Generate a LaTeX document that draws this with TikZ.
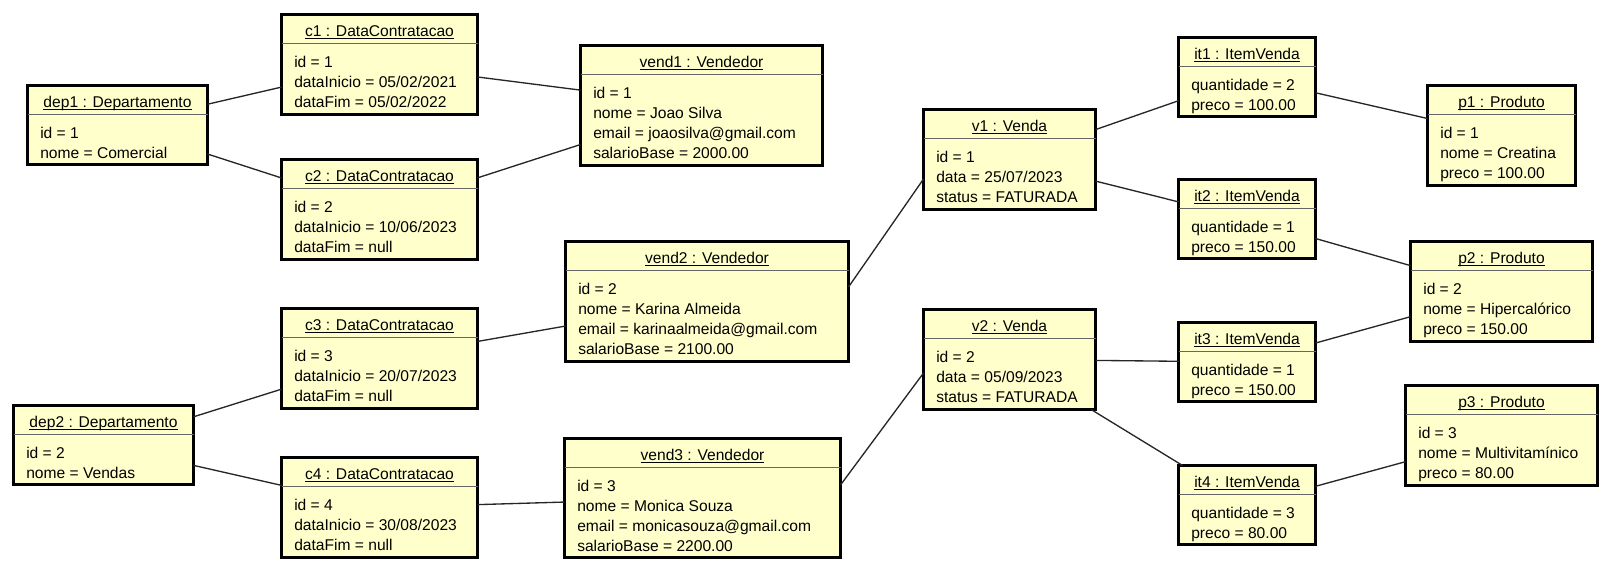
\documentclass[tikz,border=0pt]{standalone}
\usepackage{fontspec}
\setmainfont{Liberation Sans}
\usetikzlibrary{calc}
\definecolor{objfill}{RGB}{255,255,204}

\begin{document}
\begin{tikzpicture}[x=0.75pt, y=-0.75pt,
    obj/.style={draw, line width=2.2pt, fill=objfill, anchor=north west, inner sep=0pt, outer sep=0pt},
    objtitle/.style={anchor=base, inner sep=0pt, font=\fontsize{11.7}{15}\selectfont},
    objattr/.style={anchor=north west, inner sep=0pt, align=left, font=\fontsize{11.7}{15}\selectfont},
    divider/.style={black!60, line width=0.75pt},
    link/.style={black!85, line width=1pt}]
    \useasboundingbox (0,0) rectangle (1612,572);

    % Object boxes (left, top, width, height in px)
    \foreach \n/\x/\y/\w/\h in {dep1/26/84/183/82, dep2/12/404/183/82,
      c1/280/13/199/103, c2/280/158/199/103, c3/280/307/199/103, c4/280/456/199/103,
      vend1/579/44/245/123, vend2/564/240/286/123, vend3/563/437/279/122,
      v1/922/108/175/103, v2/922/308/175/103,
      it1/1177/36/140/82, it2/1177/178/140/82, it3/1177/321/140/82, it4/1177/464/140/82,
      p1/1426/84/151/103, p2/1409/240/185/103, p3/1404/384/195/103}
    {
      \node[obj, minimum width=(\w-3)*0.75pt, minimum height=(\h-3)*0.75pt]
        (\n) at (\x+1.5,\y+1.5) {};
      \draw[divider] ($(\n.north west)+(0,28.5)$) -- ($(\n.north east)+(0,28.5)$);
    }

    % Object names
    \foreach \n/\t in {dep1/{dep1 : Departamento}, dep2/{dep2 : Departamento},
      c1/{c1 : DataContratacao}, c2/{c2 : DataContratacao},
      c3/{c3 : DataContratacao}, c4/{c4 : DataContratacao},
      vend1/{vend1 : Vendedor}, vend2/{vend2 : Vendedor}, vend3/{vend3 : Vendedor},
      v1/{v1 : Venda}, v2/{v2 : Venda},
      it1/{it1 : ItemVenda}, it2/{it2 : ItemVenda}, it3/{it3 : ItemVenda}, it4/{it4 : ItemVenda},
      p1/{p1 : Produto}, p2/{p2 : Produto}, p3/{p3 : Produto}}
    \node[objtitle] (\n-t) at ($(\n.north)+(0,22)$) {\underline{\smash{\t}}};

    % Attribute values
    \foreach \n/\a in {dep1/{id = 1\\nome = Comercial}, dep2/{id = 2\\nome = Vendas},
      c1/{id = 1\\dataInicio = 05/02/2021\\dataFim = 05/02/2022},
      c2/{id = 2\\dataInicio = 10/06/2023\\dataFim = null},
      c3/{id = 3\\dataInicio = 20/07/2023\\dataFim = null},
      c4/{id = 4\\dataInicio = 30/08/2023\\dataFim = null},
      vend1/{id = 1\\nome = Joao Silva\\email = joaosilva@gmail.com\\salarioBase = 2000.00},
      vend2/{id = 2\\nome = Karina Almeida\\email = karinaalmeida@gmail.com\\salarioBase = 2100.00},
      vend3/{id = 3\\nome = Monica Souza\\email = monicasouza@gmail.com\\salarioBase = 2200.00},
      v1/{id = 1\\data = 25/07/2023\\status = FATURADA},
      v2/{id = 2\\data = 05/09/2023\\status = FATURADA},
      it1/{quantidade = 2\\preco = 100.00}, it2/{quantidade = 1\\preco = 150.00},
      it3/{quantidade = 1\\preco = 150.00}, it4/{quantidade = 3\\preco = 80.00},
      p1/{id = 1\\nome = Creatina\\preco = 100.00},
      p2/{id = 2\\nome = Hipercalórico\\preco = 150.00},
      p3/{id = 3\\nome = Multivitamínico\\preco = 80.00}}
    \node[objattr] (\n-a) at ($(\n.north west)+(12.5,41.3)$) {\a};

    % Links
    \draw[link] (dep1) -- (c1);
    \draw[link] (dep1) -- (c2);
    \draw[link] (c1) -- (vend1);
    \draw[link] (c2) -- (vend1);
    \draw[link] (dep2) -- (c3);
    \draw[link] (dep2) -- (c4);
    \draw[link] (c3) -- (vend2);
    \draw[link] (c4) -- (vend3);
    \draw[link] ($(vend2.east)+(0,-14.5)$) -- ($(v1.west)+(0,19.5)$);
    \draw[link] ($(vend3.east)+(0,-13)$) -- ($(v2.west)+(0,13.5)$);
    \draw[link] (v1) -- (it1);
    \draw[link] (v1) -- (it2);
    \draw[link] (v2) -- (it3);
    \draw[link] (v2) -- (it4);
    \draw[link] (it1) -- (p1);
    \draw[link] (it2) -- (p2);
    \draw[link] (it3) -- (p2);
    \draw[link] (it4) -- (p3);
  \end{tikzpicture}
\end{document}
